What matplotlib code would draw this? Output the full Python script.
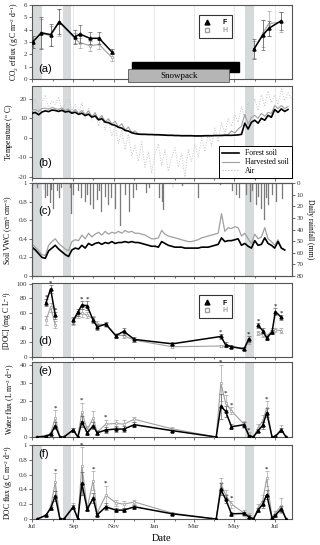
import datetime as dt
import numpy as np
import pandas as pd
import matplotlib
matplotlib.use('Agg')
import matplotlib.pyplot as plt
import matplotlib.dates as mdates
from matplotlib.patches import Rectangle
from matplotlib.lines import Line2D
from matplotlib.ticker import FuncFormatter

plt.rcParams['font.family'] = ['Liberation Serif', 'DejaVu Serif']
plt.rcParams['font.size'] = 6
plt.rcParams['mathtext.fontset'] = 'custom'
plt.rcParams['mathtext.rm'] = 'Liberation Serif'
plt.rcParams['mathtext.it'] = 'Liberation Serif'

START = '2012-07-01'
END = '2013-07-27'

# ---- (a) CO2 efflux
co2_dates = ['2012-07-02', '2012-07-15', '2012-07-29', '2012-08-11', '2012-09-03', '2012-09-11',
             '2012-09-26', '2012-10-10', '2012-10-29', '2013-05-31', '2013-06-13', '2013-06-22', '2013-07-10']
co2_F = [3.0, 3.75, 3.6, 4.65, 3.4, 3.65, 3.3, 3.3, 2.2, 2.45, 3.55, 4.1, 4.7]
co2_H = [3.0, 3.7, 3.5, 4.6, 3.3, 2.95, 2.7, 2.8, 1.75, 2.4, 3.7, 4.5, 4.6]
co2_F_err = [0.5, 1.3, 0.9, 1.0, 0.6, 0.7, 0.5, 0.5, 0.2, 0.8, 1.2, 0.6, 0.7]
co2_H_err = [0.5, 1.2, 0.8, 1.1, 0.4, 0.4, 0.4, 0.4, 0.3, 0.7, 1.1, 1.0, 0.8]
co2_breaks = [9]

snow_black = ('2012-11-29', '2013-05-08')
snow_grey = ('2012-11-23', '2013-04-24')

# ---- (b) temperature, 5-day steps from START
temp_forest = [12.5, 13.0, 11.8, 13.2, 13.8, 13.4, 14.2, 14.0, 13.5, 14.1, 13.2, 13.6, 12.6, 13.1, 12.0, 12.6,
               11.4, 12.1, 10.6, 11.2, 9.2, 9.8, 8.0, 7.8, 6.8, 6.4, 5.4, 5.0, 3.8, 3.5, 2.6, 2.2,
               1.9, 1.8, 1.8, 1.7, 1.7, 1.6, 1.6, 1.5, 1.4, 1.3, 1.3, 1.2, 1.2, 1.1, 1.1, 1.1,
               1.1, 1.0, 1.0, 1.0, 1.1, 1.1, 1.1, 1.2, 1.2, 1.2, 1.3, 1.3, 1.3, 1.4, 1.5, 1.8,
               7.5, 4.5, 8.0, 9.0, 7.5, 10.0, 9.0, 11.5, 10.5, 14.5, 13.0, 14.8, 13.5, 14.5]
temp_harv = [14.0, 14.5, 13.5, 15.0, 15.2, 14.6, 15.5, 15.0, 14.5, 15.3, 14.0, 14.8, 13.0, 14.5, 12.5, 14.0,
             11.8, 13.8, 10.8, 12.8, 9.4, 11.5, 8.2, 9.8, 7.0, 8.5, 5.6, 7.2, 4.0, 5.5, 2.8, 3.5,
             2.0, 1.9, 1.8, 1.8, 1.7, 1.7, 1.6, 1.5, 1.4, 1.3, 1.3, 1.2, 1.2, 1.1, 1.1, 1.1,
             1.1, 1.0, 1.0, 1.0, 1.1, 1.1, 1.1, 1.2, 1.2, 1.3, 1.5, 1.8, 3.5, 2.5, 4.5, 6.0,
             12.0, 7.0, 10.5, 11.5, 10.0, 12.5, 11.0, 13.0, 12.5, 16.5, 15.0, 16.5, 15.0, 16.0]
temp_air = [16, 20, 14, 18, 22, 15, 19,
            17, 21, 13, 18, 20, 14,
            17, 12, 18, 10, 15, 9,
            13, 6, 11, 4, 9, 1,
            6, -3, 4, -6, 2, -9,
            -4, -12, -2, -15, -7, -18,
            -8, -3, -14, -6, -17, -10,
            -5, -15, -8, -20, -6, -12,
            -3, -10, 0, -7, 2, -4,
            5, -2, 8, 2, 10, 6,
            12, 8, 16, 10, 18, 12,
            20, 14, 22, 16, 24, 18,
            22, 17, 25, 19, 23, 20]

# ---- (c) soil water content (5-day steps) and daily rainfall
vwc_forest = [0.31, 0.28, 0.24, 0.20, 0.19, 0.27, 0.30, 0.33, 0.29, 0.26, 0.23, 0.21, 0.28, 0.30, 0.29, 0.33,
              0.30, 0.35, 0.33, 0.35, 0.36, 0.34, 0.36, 0.35, 0.37, 0.35, 0.36, 0.36, 0.37, 0.36, 0.37, 0.36,
              0.36, 0.35, 0.34, 0.33, 0.32, 0.32, 0.31, 0.37, 0.35, 0.33, 0.32, 0.31, 0.31, 0.31, 0.30, 0.30,
              0.30, 0.30, 0.30, 0.31, 0.31, 0.31, 0.32, 0.33, 0.34, 0.41, 0.37, 0.38, 0.38, 0.39, 0.40, 0.33,
              0.35, 0.32, 0.30, 0.38, 0.33, 0.34, 0.41, 0.35, 0.33, 0.30, 0.37, 0.30, 0.28]
vwc_harv = [0.34, 0.31, 0.27, 0.23, 0.22, 0.33, 0.37, 0.40, 0.35, 0.32, 0.29, 0.27, 0.37, 0.39, 0.38, 0.44,
            0.40, 0.46, 0.42, 0.45, 0.47, 0.44, 0.48, 0.45, 0.47, 0.46, 0.48, 0.46, 0.49, 0.47, 0.48, 0.46,
            0.46, 0.45, 0.44, 0.42, 0.40, 0.40, 0.41, 0.49, 0.45, 0.43, 0.42, 0.41, 0.40, 0.39, 0.38, 0.37,
            0.37, 0.38, 0.39, 0.41, 0.42, 0.43, 0.44, 0.45, 0.46, 0.67, 0.48, 0.52, 0.51, 0.53, 0.52, 0.43,
            0.46, 0.40, 0.35, 0.45, 0.40, 0.42, 0.52, 0.40, 0.37, 0.33, 0.39, 0.30, 0.28]
rain_day = [3, 8, 12, 18, 20, 23, 28, 30, 33, 38, 42, 45, 58, 59, 62, 70, 75, 80, 84, 88, 93, 98,
            102, 105, 110, 115, 120, 125, 133, 140, 147, 152, 157, 172, 177, 192, 196, 198, 212, 227,
            251, 283, 302, 308, 312, 322, 328, 332, 337, 341, 345, 349, 352, 356, 362, 367, 377]
rain_mm = [3, 4, 2, 6, 13, 11, 17, 6, 22, 7, 13, 4, 4, 27, 10, 7, 13, 16, 10, 19, 22, 15,
           7, 25, 12, 19, 13, 22, 37, 10, 25, 13, 6, 9, 4, 13, 16, 23, 4, 3,
           13, 2, 7, 10, 13, 10, 16, 7, 19, 12, 22, 32, 13, 19, 10, 16, 14]

# ---- (d) DOC concentration
doc_dates = ['2012-07-22', '2012-07-29', '2012-08-05', '2012-09-01', '2012-09-08', '2012-09-14', '2012-09-22',
             '2012-10-01', '2012-10-07', '2012-10-20', '2012-11-04', '2012-11-16', '2012-12-02', '2013-01-28',
             '2013-04-11', '2013-04-18', '2013-04-27', '2013-05-16', '2013-05-23', '2013-06-06', '2013-06-13',
             '2013-06-19', '2013-06-27', '2013-07-02', '2013-07-11']
doc_F = [74, 93, 57, 50, 61, 71, 70, 50, 41, 45, 29, 35, 24, 18, 28, 17, 14, 11, 25, 43, 36, 26, 34, 62, 54]
doc_H = [50, 68, 44, 48, 58, 60, 57, 52, 45, 44, 30, 29, 23, 14, 15, 15, 14, 12, 21, 33, 30, 29, 36, 37, 36]
doc_F_err = [5, 5, 5, 5, 5, 6, 6, 4, 4, 3, 3, 5, 3, 2, 3, 3, 2, 2, 4, 4, 3, 3, 3, 5, 4]
doc_H_err = [6, 6, 5, 5, 5, 5, 4, 4, 4, 3, 3, 3, 2, 2, 2, 2, 2, 2, 3, 3, 3, 3, 4, 3, 3]
doc_breaks = [3, 19]
doc_star = [0, 1, 2, 5, 6, 14, 18, 19, 23, 24]

# ---- (e) water flux and (f) DOC flux
flux_dates = ['2012-07-09', '2012-07-22', '2012-07-29', '2012-08-05', '2012-08-12', '2012-08-18', '2012-09-01',
              '2012-09-08', '2012-09-14', '2012-09-22', '2012-10-01', '2012-10-07', '2012-10-20', '2012-11-04',
              '2012-11-16', '2012-12-02', '2013-01-28', '2013-04-04', '2013-04-11', '2013-04-18', '2013-04-27',
              '2013-05-16', '2013-05-23', '2013-05-30', '2013-06-06', '2013-06-13', '2013-06-19', '2013-06-27',
              '2013-07-02', '2013-07-11', '2013-07-18']
wat_F = [0, 0.5, 1.5, 6.2, 0, 0, 3.9, 0, 8.4, 2.3, 6.2, 2.3, 3.9, 4.4, 4.4, 6.8, 3.5, 0, 17, 14.3, 5.7,
         6.8, 0.8, 0, 3.5, 6.5, 13.4, 0, 0.3, 3.9, 0]
wat_H = [0, 0.5, 2, 10.5, 0, 0, 4, 0, 14, 4, 10.5, 2.6, 7.1, 7.5, 7.1, 9.8, 4.5, 0, 30, 19, 14.5,
         7, 1.5, 0, 5, 9, 16, 0, 0.5, 4.5, 0]
wat_F_err = [0.3, 0.3, 0.5, 2, 0, 0, 1, 0, 3, 1, 2, 1, 1.5, 1.5, 1.5, 1.5, 0.5, 0, 7, 3, 1.5,
             1.5, 0.5, 0, 1, 2, 2.5, 0, 0.2, 1, 0]
wat_H_err = [0.3, 0.5, 0.8, 4.5, 0, 0, 1.2, 0, 5, 2, 4, 1, 2.5, 2, 2.5, 1.5, 1, 0, 10, 4, 2,
             2, 1, 0, 2, 3, 4, 0, 0.3, 2, 0]
wat_star = [3, 8, 12, 18, 19, 20, 22, 26]

docf_F = [0, 0.05, 0.145, 0.31, 0, 0, 0.16, 0, 0.48, 0.135, 0.28, 0.055, 0.165, 0.12, 0.12, 0.165, 0.07,
          0, 0.4, 0.27, 0.07, 0.075, 0.03, 0, 0.12, 0.2, 0.33, 0.01, 0.05, 0.14, 0]
docf_H = [0, 0.05, 0.16, 0.5, 0, 0, 0.18, 0, 0.72, 0.15, 0.52, 0.08, 0.32, 0.22, 0.2, 0.23, 0.08,
          0, 0.48, 0.33, 0.2, 0.08, 0.05, 0, 0.15, 0.25, 0.55, 0.02, 0.08, 0.18, 0]
docf_F_err = [0, 0.01, 0.02, 0.07, 0, 0, 0.03, 0, 0.15, 0.03, 0.07, 0.02, 0.05, 0.03, 0.03, 0.03, 0.01,
              0, 0.08, 0.06, 0.03, 0.02, 0.02, 0, 0.03, 0.05, 0.06, 0.01, 0.02, 0.04, 0]
docf_H_err = [0, 0.02, 0.03, 0.12, 0, 0, 0.03, 0, 0.25, 0.04, 0.13, 0.03, 0.13, 0.04, 0.05, 0.03, 0.01,
              0, 0.08, 0.06, 0.05, 0.04, 0.03, 0, 0.05, 0.08, 0.1, 0.01, 0.03, 0.1, 0]
docf_star = [3, 8, 10, 12, 20, 26]

# grey bands (sampling gaps)
bands = [('2012-07-03', '2012-07-16'), ('2012-08-16', '2012-08-29'), ('2013-05-18', '2013-05-31')]

BAND = '#d6dadb'
GREY = '#a0a0a0'
SPINE = '#555555'
TICKSIZE = 5

fig = plt.figure(figsize=(3.2, 5.45), dpi=100)
L, W = 32 / 320, 260 / 320
def rect(top, bot):
    return [L, 1 - bot / 545, W, (bot - top) / 545]

ax_a = fig.add_axes(rect(5, 79))
ax_b = fig.add_axes(rect(86, 178))
ax_c = fig.add_axes(rect(183, 276))
ax_d = fig.add_axes(rect(283, 357))
ax_e = fig.add_axes(rect(362, 437))
ax_f = fig.add_axes(rect(445, 519))
axes = [ax_a, ax_b, ax_c, ax_d, ax_e, ax_f]

gfmt = FuncFormatter(lambda v, p: '%g' % v)
for ax in axes:
    for b0, b1 in bands:
        ax.axvspan(pd.Timestamp(b0), pd.Timestamp(b1), color=BAND, lw=0, zorder=0)
    ax.set_xlim(pd.Timestamp(START), pd.Timestamp(END))
    ax.xaxis.set_major_locator(mdates.MonthLocator(bymonth=[1, 3, 5, 7, 9, 11]))
    ax.xaxis.set_minor_locator(mdates.MonthLocator())
    ax.xaxis.set_major_formatter(mdates.DateFormatter('%b'))
    ax.grid(axis='x', which='major', color='#e4e4e4', lw=0.6, zorder=0)
    ax.set_axisbelow(True)
    for s in ax.spines.values():
        s.set_color(SPINE)
        s.set_linewidth(0.8)
    ax.tick_params(labelsize=TICKSIZE, length=2, width=0.5, colors='#333333', pad=1.5)
    ax.tick_params(which='minor', length=1.2, width=0.4)
    ax.yaxis.set_major_formatter(gfmt)
    if ax is not ax_f:
        ax.tick_params(axis='x', labelbottom=False)


def segments(n, breaks):
    edges = [0] + breaks + [n]
    return [slice(edges[i], edges[i + 1]) for i in range(len(edges) - 1)]


def pair_plot(ax, dates, f, h, fe, he, breaks, star=None, star_off=0.0):
    x = pd.to_datetime(dates)
    f, h, fe, he = map(np.asarray, (f, h, fe, he))
    for s in segments(len(x), breaks):
        ax.errorbar(x[s], h[s], yerr=he[s], color=GREY, lw=0.8, marker='s', ms=1.9, mfc='white',
                    mec=GREY, mew=0.5, elinewidth=0.45, capsize=1.1, capthick=0.45, zorder=3)
        ax.errorbar(x[s], f[s], yerr=fe[s], color='black', lw=1.1, marker='^', ms=2.2, mfc='black',
                    mec='black', elinewidth=0.45, ecolor='#555555', capsize=1.1, capthick=0.45, zorder=4)
    if star:
        for i in star:
            top = max(f[i] + fe[i], h[i] + he[i])
            ax.text(x[i], top + star_off, '*', ha='center', va='center', fontsize=5, zorder=5)


def fh_legend(ax, bbox):
    hd = [Line2D([], [], ls='none', marker='^', ms=3.5, color='black'),
          Line2D([], [], ls='none', marker='s', ms=3.5, mfc='white', mec=GREY)]
    lg = ax.legend(hd, ['F', 'H'], loc='upper left', bbox_to_anchor=bbox, frameon=True,
                   prop={'family': 'Liberation Sans', 'weight': 'bold', 'size': 5},
                   handlelength=1.0, handletextpad=1.8, borderpad=0.6, labelspacing=0.1)
    lg.get_frame().set_edgecolor('black')
    lg.get_frame().set_linewidth(0.8)
    lg.get_frame().set_boxstyle('square', pad=0)
    lg.get_texts()[1].set_color(GREY)


def panel_label(ax, txt, x, y):
    ax.text(x, y, txt, transform=ax.transAxes, fontsize=8, family='Liberation Sans', va='center', zorder=6)


# (a)
pair_plot(ax_a, co2_dates, co2_F, co2_H, co2_F_err, co2_H_err, co2_breaks)
ax_a.set_ylim(0, 6)
ax_a.set_yticks(range(0, 7))
ax_a.set_ylabel('CO$_2$ efflux (g C m$^{-2}$ d$^{-1}$)', fontsize=5.5, labelpad=2)
fh_legend(ax_a, (0.63, 0.91))
b0, b1 = mdates.date2num(pd.Timestamp(snow_black[0])), mdates.date2num(pd.Timestamp(snow_black[1]))
ax_a.add_patch(Rectangle((b0, 0.57), b1 - b0, 0.82, color='black', zorder=6, clip_on=False))
g0, g1 = mdates.date2num(pd.Timestamp(snow_grey[0])), mdates.date2num(pd.Timestamp(snow_grey[1]))
ax_a.add_patch(Rectangle((g0, -0.25), g1 - g0, 1.05, facecolor='#b5b5b5', edgecolor='#555555',
                         lw=0.6, zorder=7, clip_on=False))
ax_a.text((g0 + g1) / 2, 0.27, 'Snowpack', ha='center', va='center', fontsize=6.5, zorder=8)
panel_label(ax_a, '(a)', 0.025, 0.14)

# (b)
tdates = pd.date_range(START, periods=len(temp_forest), freq='5D')
adates = pd.date_range(START, periods=len(temp_air), freq='5D')
ax_b.plot(adates, temp_air, color='#c4c4c4', lw=0.7, ls=':', zorder=2)
ax_b.plot(tdates, temp_harv, color=GREY, lw=0.8, zorder=3)
ax_b.plot(tdates, temp_forest, color='black', lw=1.2, zorder=4)
ax_b.set_ylim(-20.5, 26.5)
ax_b.set_yticks([-20, -10, 0, 10, 20])
ax_b.set_ylabel('Temperature ($^o$ C)', fontsize=5.5, labelpad=2)
hd = [Line2D([], [], color='black', lw=1.2), Line2D([], [], color=GREY, lw=0.8),
      Line2D([], [], color='#b8b8b8', lw=0.8, ls=':')]
lg = ax_b.legend(hd, ['Forest soil', 'Harvested soil', 'Air'], loc='lower right', borderaxespad=0,
                 fontsize=5.5, handlelength=2.2, labelspacing=0.1, borderpad=0.4, framealpha=1)
lg.get_frame().set_edgecolor('black')
lg.get_frame().set_linewidth(0.7)
lg.get_frame().set_boxstyle('square', pad=0)
panel_label(ax_b, '(b)', 0.025, 0.16)

# (c)
vdates = pd.date_range(START, periods=len(vwc_forest), freq='5D')
ax_c.plot(vdates, vwc_harv, color=GREY, lw=0.9, zorder=3)
ax_c.plot(vdates, vwc_forest, color='black', lw=1.2, zorder=4)
ax_c.set_ylim(0, 1)
ax_c.set_yticks(np.arange(0, 1.01, 0.2))
ax_c.set_ylabel('Soil VWC (cm$^3$ cm$^{-3}$)', fontsize=5.5, labelpad=2)
ax_r = ax_c.twinx()
rdates = pd.Timestamp(START) + pd.to_timedelta(rain_day, unit='D')
ax_r.bar(rdates, rain_mm, width=1.4, color='#7a7a7a', edgecolor='#7a7a7a', lw=0.2, zorder=2)
ax_r.set_ylim(80, 0)
ax_r.set_yticks(range(0, 81, 10))
ax_r.set_xlim(pd.Timestamp(START), pd.Timestamp(END))
ax_r.tick_params(labelsize=TICKSIZE, length=2, width=0.5, colors='#333333', pad=1.5)
for s in ax_r.spines.values():
    s.set_color(SPINE)
    s.set_linewidth(0.8)
ax_r.set_ylabel('Daily rainfall (mm)', fontsize=5.5, rotation=270, labelpad=7)
panel_label(ax_c, '(c)', 0.025, 0.70)

# (d)
pair_plot(ax_d, doc_dates, doc_F, doc_H, doc_F_err, doc_H_err, doc_breaks, doc_star, 2.5)
ax_d.set_ylim(0, 101)
ax_d.set_yticks(range(0, 101, 20))
ax_d.set_ylabel('[DOC] (mg C L$^{-1}$)', fontsize=5.5, labelpad=2)
fh_legend(ax_d, (0.63, 0.88))
panel_label(ax_d, '(d)', 0.025, 0.22)

# (e)
pair_plot(ax_e, flux_dates, wat_F, wat_H, wat_F_err, wat_H_err, [], wat_star, 1.2)
ax_e.set_ylim(0, 41.5)
ax_e.set_yticks(range(0, 41, 10))
ax_e.set_ylabel('Water flux (L m$^{-2}$ d$^{-1}$)', fontsize=5.5, labelpad=2)
panel_label(ax_e, '(e)', 0.025, 0.88)

# (f)
pair_plot(ax_f, flux_dates, docf_F, docf_H, docf_F_err, docf_H_err, [], docf_star, 0.03)
ax_f.set_ylim(0, 1)
ax_f.set_yticks(np.arange(0, 1.01, 0.2))
ax_f.set_ylabel('DOC flux (g C m$^{-2}$ d$^{-1}$)', fontsize=5.5, labelpad=2)
ax_f.set_xlabel('Date', fontsize=7.5, labelpad=4)
panel_label(ax_f, '(f)', 0.025, 0.88)

fig.savefig('out.png', dpi=100)
